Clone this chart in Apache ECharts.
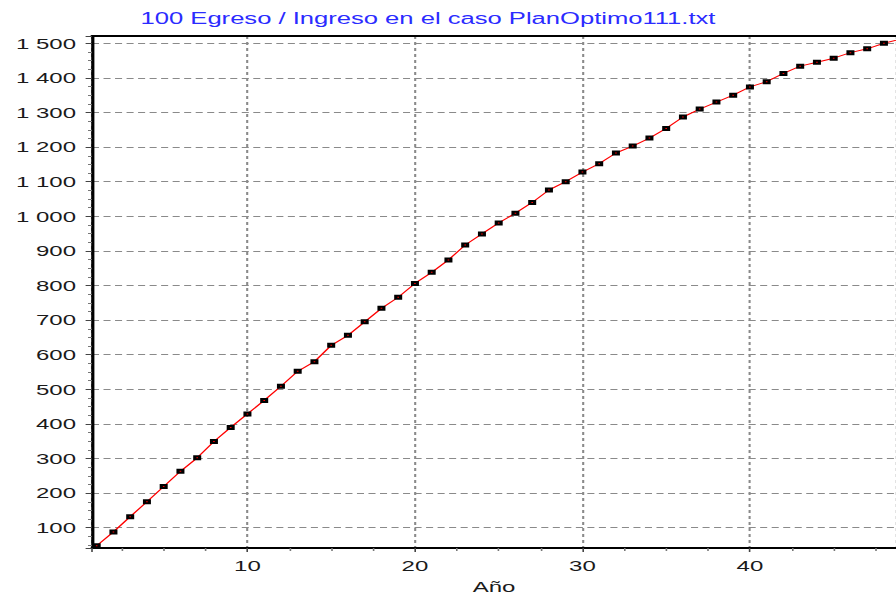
<!DOCTYPE html>
<html>
<head>
<meta charset="utf-8">
<script src="https://cdn.jsdelivr.net/npm/echarts@6/dist/echarts.min.js"></script>
<style>
  html, body { margin: 0; padding: 0; background: #fff; overflow: hidden; }
  /* the reference is a horizontally stretched bitmap, so the chart is drawn narrow and widened */
  #wrap { width: 896px; height: 599px; overflow: hidden; }
  #chart { width: 560px; height: 599px; transform: scaleX(1.6); transform-origin: 0 0; }
</style>
</head>
<body>
<div id="wrap"><div id="chart"></div></div>
<script>
const titleText = '100 Egreso / Ingreso en el caso PlanOptimo111.txt';
const xName = 'Año';

const years = [
  1, 2, 3, 4, 5, 6, 7, 8, 9, 10,
  11, 12, 13, 14, 15, 16, 17, 18, 19, 20,
  21, 22, 23, 24, 25, 26, 27, 28, 29, 30,
  31, 32, 33, 34, 35, 36, 37, 38, 39, 40,
  41, 42, 43, 44, 45, 46, 47, 48, 49
];
const ratio = [
  48, 88, 132, 175, 219, 263, 302, 349, 390, 429,
  468, 509, 552, 580, 627, 656, 695, 734, 766, 806,
  838, 874, 917, 949, 981, 1009, 1040, 1076, 1100, 1128,
  1152, 1183, 1203, 1226, 1254, 1287, 1310, 1330, 1350, 1374,
  1389, 1413, 1434, 1445, 1457, 1473, 1484, 1500, 1512
];

const xMin = 0.72, xMax = 48.72;
const yMin = 41.4, yMax = 1521.1;

const font = '"Liberation Sans", Arial, sans-serif';

function spaced(v) {
  return String(v).replace(/\B(?=(\d{3})+(?!\d))/g, ' ');
}

const chart = echarts.init(document.getElementById('chart'), null, { renderer: 'svg' });

chart.setOption({
  animation: false,
  backgroundColor: '#fff',
  title: {
    text: titleText,
    left: 267.5,
    textAlign: 'center',
    top: 11,
    padding: 0,
    textStyle: { color: '#2b2bff', fontSize: 16, fontWeight: 'normal', fontFamily: font }
  },
  grid: { left: 57.5, right: 0, top: 36, bottom: 50 },
  xAxis: [
    {
      type: 'value',
      min: xMin,
      max: xMax,
      splitNumber: 5,
      name: xName,
      nameLocation: 'middle',
      nameGap: 31,
      nameTextStyle: { color: '#1a1a1a', fontSize: 15, fontFamily: font },
      axisLine: { lineStyle: { color: '#000', width: 2 } },
      axisTick: { length: 4, lineStyle: { color: '#444' } },
      minorTick: { show: true, splitNumber: 4, length: 3, lineStyle: { color: '#777' } },
      axisLabel: {
        color: '#1a1a1a', fontSize: 15, fontFamily: font, margin: 10,
        showMinLabel: false, showMaxLabel: false
      },
      splitLine: { show: true, lineStyle: { color: '#8a8a8a', width: 1.3, type: [3, 3] } }
    },
    {
      type: 'value',
      position: 'top',
      min: xMin,
      max: xMax,
      axisLine: { lineStyle: { color: '#000', width: 2 } },
      axisTick: { show: false },
      axisLabel: { show: false },
      splitLine: { show: false }
    }
  ],
  yAxis: {
    type: 'value',
    min: yMin,
    max: yMax,
    splitNumber: 15,
    axisLine: { show: true, lineStyle: { color: '#000', width: 2 } },
    axisTick: { show: true, length: 4, lineStyle: { color: '#444' } },
    minorTick: { show: true, splitNumber: 4, length: 2.5, lineStyle: { color: '#777' } },
    axisLabel: {
      color: '#1a1a1a', fontSize: 15, fontFamily: font, margin: 10,
      showMinLabel: false, showMaxLabel: false,
      formatter: spaced
    },
    splitLine: { show: true, lineStyle: { color: '#8a8a8a', width: 1, type: [4.4, 2.8] } }
  },
  series: [
    {
      type: 'line',
      xAxisIndex: 0,
      data: years.map((y, i) => [y, ratio[i]]),
      showAllSymbol: true,
      symbol: 'rect',
      symbolSize: [3, 3],
      lineStyle: { color: '#ff0000', width: 1 },
      itemStyle: { color: '#ff0000', borderColor: '#000', borderWidth: 2 }
    }
  ]
});
</script>
</body>
</html>
